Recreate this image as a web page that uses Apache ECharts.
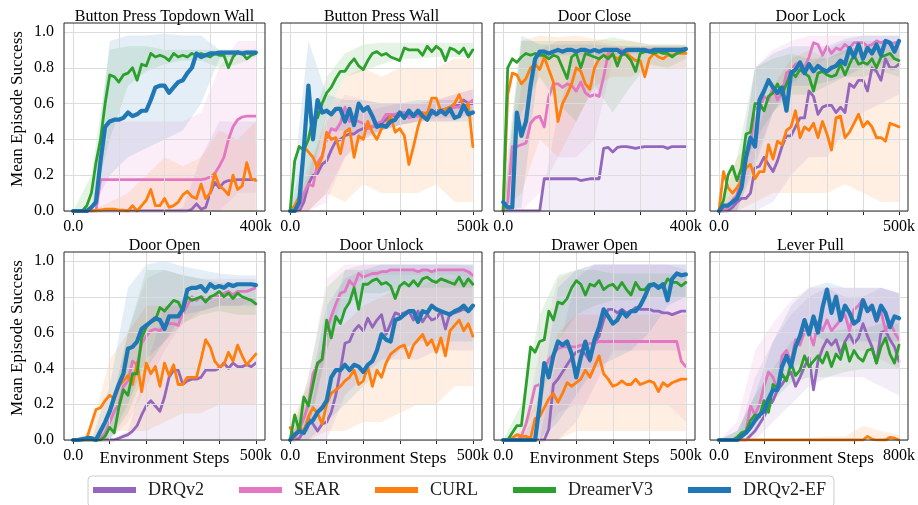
<!DOCTYPE html>
<html><head><meta charset="utf-8">
<script src="https://cdn.jsdelivr.net/npm/echarts/dist/echarts.min.js"></script>
<style>html,body{margin:0;padding:0;background:#fff}#c{width:918px;height:505px}</style>
</head><body><div id="c"></div>
<script>
const METHODS = ['DRQv2','SEAR','CURL','DreamerV3','DRQv2-EF'];
const TITLES = ['Button Press Topdown Wall','Button Press Wall','Door Close','Door Lock','Door Open','Door Unlock','Drawer Open','Lever Pull'];
const MAX_K = [400,500,400,500,500,500,500,800];
const Y_TICKS = [0,0.2,0.4,0.6,0.8,1.0];
const GX400 = [0,100,200,300,400];
const GX500 = [0,100,200,300,400,500];
const GX800 = [0,200,400,600,800];
// environment steps (thousands) of the logged points
const X400 = [0,10,20,30,40,50,60,70,80,90,100,110,120,130,140,150,160,170,180,190,200,210,220,230,240,250,260,270,280,290,300,310,320,330,340,350,360,370,380,390,400];
const X500 = [0,12.5,25,37.5,50,62.5,75,87.5,100,112.5,125,137.5,150,162.5,175,187.5,200,212.5,225,237.5,250,262.5,275,287.5,300,312.5,325,337.5,350,362.5,375,387.5,400,412.5,425,437.5,450,462.5,475,487.5,500];
const X800 = [0,20,40,60,80,100,120,140,160,180,200,220,240,260,280,300,320,340,360,380,400,420,440,460,480,500,520,540,560,580,600,620,640,660,680,700,720,740,760,780,800];
const BX400 = [0,40,80,120,160,200,240,280,320,360,400];
const BX500 = [0,50,100,150,200,250,300,350,400,450,500];
const BX800 = [0,80,160,240,320,400,480,560,640,720,800];

// ---- Panel 1: Button Press Topdown Wall
const P1_DRQV2 = [0,0,0,0,0,0,0,0,0,0, 0,0,0,0,0,0,0,0,0,0, 0,0,0,0,0,0,0.01,0.04,0.01,0.02, 0.1,0.16,0.13,0.16,0.17,0.17,0.175,0.175,0.175,0.175, 0.175];
const P1_SEAR = [0,0,0,0,0,0,0.175,0.175,0.175,0.175, 0.175,0.175,0.175,0.175,0.175,0.175,0.175,0.175,0.175,0.175, 0.175,0.175,0.175,0.175,0.175,0.175,0.175,0.175,0.175,0.18, 0.19,0.21,0.25,0.3,0.4,0.47,0.51,0.525,0.53,0.53, 0.53];
const P1_CURL = [0,0,0,0.005,0,0.005,0.005,0.01,0.01,0.01, 0.005,0.005,0,0.03,0,0.03,0.06,0.12,0.03,0.03, 0.07,0.02,0.03,0.05,0.09,0.11,0.08,0.07,0.15,0.07, 0.1,0.21,0.14,0.12,0.09,0.2,0.12,0.14,0.27,0.18, 0.17];
const P1_DREAMER = [0,0,0,0.03,0.1,0.27,0.4,0.6,0.76,0.75, 0.72,0.76,0.77,0.8,0.73,0.82,0.81,0.88,0.86,0.87, 0.86,0.84,0.88,0.86,0.87,0.86,0.88,0.87,0.88,0.87, 0.86,0.88,0.87,0.87,0.8,0.86,0.89,0.88,0.85,0.87, 0.88];
const P1_EF = [0,0,0,0,0.02,0.05,0.28,0.47,0.5,0.51, 0.51,0.52,0.55,0.53,0.54,0.56,0.56,0.62,0.69,0.7, 0.7,0.66,0.69,0.72,0.73,0.77,0.8,0.88,0.86,0.87, 0.88,0.88,0.885,0.885,0.885,0.885,0.885,0.88,0.885,0.885, 0.885];
const P1_DRQV2_LO = [0,0,0,0,0,0,0,0,0,0,0];
const P1_DRQV2_HI = [0,0,0,0,0,0,0.02,0.3,0.5,0.5,0.5];
const P1_SEAR_LO = [0,0,0,0,0,0,0,0,0,0.1,0.1];
const P1_SEAR_HI = [0,0,0.5,0.5,0.5,0.5,0.5,0.55,0.8,0.95,0.95];
const P1_CURL_LO = [0,0,0,0,0,0,0,0,0,0,0];
const P1_CURL_HI = [0,0,0.05,0.1,0.2,0.3,0.25,0.3,0.45,0.4,0.5];
const P1_DREAMER_LO = [0,0,0.4,0.7,0.78,0.82,0.84,0.84,0.8,0.82,0.86];
const P1_DREAMER_HI = [0,0.2,0.9,0.92,0.92,0.9,0.9,0.9,0.9,0.9,0.9];
const P1_EF_LO = [0,0,0.2,0.3,0.35,0.4,0.45,0.6,0.85,0.87,0.87];
const P1_EF_HI = [0,0,0.95,0.98,0.98,0.99,0.98,0.98,0.9,0.9,0.9];

// ---- Panel 2: Button Press Wall
const P2_DRQV2 = [0,0,0,0.05,0.15,0.2,0.21,0.26,0.28,0.34, 0.39,0.4,0.42,0.43,0.43,0.45,0.46,0.47,0.47,0.48, 0.49,0.51,0.54,0.53,0.53,0.54,0.54,0.54,0.54,0.54, 0.55,0.55,0.56,0.56,0.57,0.58,0.58,0.6,0.62,0.6, 0.6];
const P2_SEAR = [0,0,0.02,0.1,0.15,0.14,0.27,0.31,0.4,0.46, 0.45,0.49,0.58,0.5,0.51,0.5,0.49,0.46,0.47,0.49, 0.5,0.54,0.54,0.54,0.55,0.55,0.52,0.53,0.53,0.53, 0.54,0.54,0.56,0.56,0.57,0.57,0.58,0.58,0.59,0.6, 0.62];
const P2_CURL = [0,0.03,0.08,0.36,0.33,0.3,0.24,0.3,0.44,0.4, 0.41,0.32,0.44,0.46,0.3,0.42,0.4,0.5,0.44,0.4, 0.46,0.48,0.53,0.44,0.46,0.42,0.26,0.36,0.47,0.55, 0.54,0.63,0.63,0.56,0.57,0.58,0.6,0.65,0.58,0.6, 0.36];
const P2_DREAMER = [0,0.28,0.36,0.34,0.4,0.52,0.52,0.6,0.66,0.69, 0.74,0.78,0.78,0.82,0.85,0.81,0.79,0.84,0.88,0.89, 0.87,0.88,0.86,0.85,0.84,0.91,0.9,0.9,0.9,0.87, 0.92,0.89,0.92,0.9,0.84,0.91,0.9,0.88,0.91,0.86, 0.9];
const P2_EF = [0,0,0.05,0.35,0.7,0.4,0.62,0.55,0.56,0.54, 0.57,0.57,0.5,0.57,0.48,0.6,0.56,0.58,0.53,0.47, 0.48,0.47,0.5,0.51,0.55,0.52,0.56,0.53,0.56,0.53, 0.51,0.56,0.54,0.56,0.54,0.57,0.52,0.53,0.59,0.54, 0.55];
const P2_DRQV2_LO = [0,0,0.1,0.3,0.4,0.45,0.48,0.5,0.52,0.52,0.55];
const P2_DRQV2_HI = [0,0.1,0.4,0.55,0.55,0.58,0.6,0.6,0.62,0.65,0.68];
const P2_SEAR_LO = [0,0,0.05,0.3,0.4,0.45,0.48,0.5,0.5,0.5,0.55];
const P2_SEAR_HI = [0,0.25,0.5,0.65,0.62,0.6,0.6,0.6,0.62,0.65,0.68];
const P2_CURL_LO = [0,0,0.1,0.05,0.15,0.1,0.1,0.1,0.15,0.05,0.05];
const P2_CURL_HI = [0,0.2,0.55,0.75,0.8,0.75,0.8,0.8,0.8,0.85,0.85];
const P2_DREAMER_LO = [0,0.1,0.55,0.75,0.78,0.82,0.85,0.85,0.86,0.86,0.86];
const P2_DREAMER_HI = [0,0.45,0.75,0.88,0.93,0.94,0.94,0.94,0.94,0.94,0.94];
const P2_EF_LO = [0,0.1,0.45,0.45,0.42,0.45,0.48,0.5,0.5,0.5,0.5];
const P2_EF_HI = [0,0.95,0.65,0.62,0.62,0.6,0.6,0.62,0.62,0.62,0.62];

// ---- Panel 3: Door Close
const P3_DRQV2 = [0,0,0,0,0,0,0,0,0,0.18, 0.18,0.18,0.18,0.18,0.18,0.18,0.18,0.17,0.175,0.18, 0.18,0.18,0.35,0.355,0.33,0.355,0.36,0.36,0.355,0.35, 0.355,0.36,0.36,0.36,0.36,0.36,0.35,0.36,0.36,0.36, 0.36];
const P3_SEAR = [0,0.05,0.36,0.36,0.37,0.38,0.49,0.52,0.53,0.47, 0.64,0.71,0.71,0.69,0.71,0.7,0.67,0.72,0.66,0.64, 0.65,0.64,0.75,0.88,0.9,0.9,0.9,0.89,0.9,0.9, 0.9,0.9,0.9,0.89,0.9,0.9,0.9,0.9,0.9,0.9, 0.9];
const P3_CURL = [0,0.65,0.77,0.76,0.71,0.74,0.8,0.82,0.79,0.86, 0.79,0.72,0.5,0.6,0.65,0.71,0.8,0.78,0.71,0.68, 0.8,0.85,0.87,0.86,0.87,0.85,0.87,0.88,0.86,0.84, 0.84,0.75,0.85,0.88,0.86,0.85,0.87,0.87,0.88,0.88, 0.88];
const P3_DREAMER = [0,0.8,0.85,0.83,0.86,0.88,0.87,0.88,0.87,0.87, 0.85,0.87,0.86,0.8,0.74,0.86,0.88,0.8,0.88,0.87, 0.86,0.85,0.87,0.85,0.88,0.81,0.88,0.87,0.84,0.78, 0.88,0.89,0.89,0.88,0.89,0.88,0.88,0.86,0.88,0.89, 0.9];
const P3_EF = [0.05,0.02,0.02,0.55,0.42,0.5,0.7,0.85,0.89,0.89, 0.88,0.89,0.9,0.89,0.9,0.9,0.89,0.9,0.9,0.89, 0.9,0.89,0.9,0.9,0.9,0.9,0.88,0.9,0.9,0.9, 0.9,0.9,0.89,0.9,0.9,0.9,0.9,0.9,0.9,0.9, 0.905];
const P3_DRQV2_LO = [0,0,0,0,0,0,0,0,0,0,0];
const P3_DRQV2_HI = [0,0,0,0.55,0.9,0.9,0.9,0.9,0.9,0.9,0.9];
const P3_SEAR_LO = [0,0,0.1,0.3,0.3,0.4,0.85,0.88,0.88,0.88,0.88];
const P3_SEAR_HI = [0,0.7,0.9,0.95,0.95,0.95,0.93,0.92,0.92,0.92,0.92];
const P3_CURL_LO = [0,0.1,0.4,0.3,0.5,0.7,0.75,0.75,0.8,0.8,0.8];
const P3_CURL_HI = [0,0.95,0.98,0.97,0.98,0.96,0.95,0.95,0.93,0.93,0.93];
const P3_DREAMER_LO = [0,0.55,0.75,0.6,0.5,0.7,0.55,0.7,0.82,0.8,0.85];
const P3_DREAMER_HI = [0,0.95,0.95,0.95,0.95,0.95,0.97,0.95,0.93,0.93,0.93];
const P3_EF_LO = [0,0.02,0.85,0.87,0.87,0.87,0.87,0.88,0.88,0.88,0.88];
const P3_EF_HI = [0.1,0.98,0.93,0.93,0.93,0.93,0.92,0.92,0.92,0.92,0.92];

// ---- Panel 4: Door Lock
const P4_DRQV2 = [0,0,0,0.02,0.05,0.07,0.07,0.1,0.24,0.25, 0.3,0.26,0.22,0.28,0.36,0.42,0.42,0.47,0.52,0.52, 0.67,0.64,0.54,0.58,0.59,0.59,0.55,0.58,0.55,0.71, 0.69,0.73,0.73,0.67,0.8,0.78,0.73,0.85,0.8,0.8, 0.82];
const P4_SEAR = [0,0,0.02,0.06,0.09,0.2,0.3,0.37,0.58,0.56, 0.64,0.62,0.69,0.62,0.66,0.77,0.79,0.82,0.83,0.8, 0.86,0.94,0.93,0.87,0.92,0.88,0.91,0.9,0.93,0.91, 0.94,0.94,0.94,0.92,0.93,0.95,0.94,0.95,0.93,0.94, 0.94];
const P4_CURL = [0,0.22,0.13,0.1,0.13,0.17,0.24,0.26,0.18,0.22, 0.22,0.37,0.29,0.39,0.37,0.45,0.47,0.56,0.41,0.47, 0.45,0.49,0.41,0.5,0.43,0.34,0.52,0.53,0.41,0.44, 0.49,0.54,0.47,0.5,0.47,0.41,0.41,0.39,0.49,0.48, 0.47];
const P4_DREAMER = [0,0.06,0.2,0.25,0.17,0.24,0.43,0.44,0.6,0.6, 0.56,0.64,0.66,0.71,0.65,0.71,0.78,0.75,0.79,0.77, 0.75,0.67,0.77,0.78,0.76,0.75,0.76,0.82,0.76,0.82, 0.87,0.82,0.83,0.82,0.85,0.8,0.86,0.87,0.88,0.85, 0.84];
const P4_EF = [0,0.03,0.03,0.05,0.07,0.13,0.3,0.41,0.36,0.62, 0.67,0.73,0.69,0.66,0.69,0.56,0.77,0.79,0.83,0.77, 0.82,0.78,0.81,0.79,0.78,0.8,0.81,0.84,0.82,0.91, 0.86,0.93,0.85,0.91,0.88,0.93,0.87,0.95,0.94,0.89, 0.95];
const P4_DRQV2_LO = [0,0,0,0.05,0.2,0.3,0.3,0.45,0.55,0.6,0.65];
const P4_DRQV2_HI = [0,0.1,0.5,0.65,0.75,0.8,0.9,0.95,0.95,0.95,0.95];
const P4_SEAR_LO = [0,0,0.3,0.55,0.7,0.8,0.85,0.88,0.9,0.9,0.9];
const P4_SEAR_HI = [0,0.15,0.8,0.9,0.95,0.98,0.98,0.98,0.98,0.98,0.98];
const P4_CURL_LO = [0,0,0.05,0.1,0.1,0.1,0.1,0.15,0.1,0.05,0.05];
const P4_CURL_HI = [0,0.3,0.4,0.7,0.85,0.9,0.85,0.9,0.92,0.9,0.9];
const P4_DREAMER_LO = [0,0.1,0.4,0.55,0.65,0.65,0.7,0.75,0.75,0.78,0.75];
const P4_DREAMER_HI = [0,0.3,0.8,0.85,0.88,0.85,0.85,0.9,0.92,0.93,0.92];
const P4_EF_LO = [0,0,0.25,0.55,0.7,0.7,0.72,0.75,0.8,0.82,0.85];
const P4_EF_HI = [0,0.1,0.8,0.88,0.92,0.92,0.92,0.96,0.98,0.98,0.98];

// ---- Panel 5: Door Open
const P5_DRQV2 = [0,0,0,0,0,0,0,0,0,0, 0.01,0.02,0.03,0.05,0.08,0.14,0.19,0.22,0.19,0.16, 0.24,0.35,0.39,0.39,0.31,0.33,0.34,0.34,0.35,0.39, 0.39,0.39,0.4,0.43,0.4,0.43,0.41,0.41,0.42,0.41, 0.43];
const P5_SEAR = [0,0,0,0,0,0,0.01,0.04,0.1,0.16, 0.2,0.3,0.33,0.44,0.42,0.54,0.58,0.61,0.62,0.61, 0.64,0.65,0.65,0.64,0.71,0.75,0.8,0.78,0.8,0.79, 0.79,0.81,0.8,0.82,0.83,0.81,0.83,0.83,0.83,0.84, 0.85];
const P5_CURL = [0,0,0,0.01,0.09,0.17,0.18,0.22,0.25,0.23, 0.3,0.33,0.36,0.31,0.43,0.27,0.43,0.37,0.41,0.3, 0.43,0.36,0.42,0.31,0.31,0.35,0.35,0.35,0.45,0.56, 0.52,0.44,0.41,0.42,0.49,0.44,0.53,0.47,0.42,0.45, 0.48];
const P5_DREAMER = [0,0,0,0,0,0,0,0.02,0.07,0.04, 0.18,0.28,0.25,0.37,0.37,0.57,0.63,0.66,0.67,0.74, 0.72,0.75,0.78,0.77,0.72,0.8,0.78,0.79,0.8,0.77, 0.8,0.81,0.83,0.8,0.82,0.79,0.82,0.8,0.79,0.78, 0.76];
const P5_EF = [0,0,0.005,0.01,0.01,0,0.05,0.1,0.16,0.24, 0.31,0.37,0.51,0.52,0.55,0.62,0.64,0.66,0.68,0.67, 0.62,0.69,0.69,0.69,0.73,0.84,0.85,0.85,0.86,0.83, 0.87,0.85,0.86,0.85,0.87,0.86,0.87,0.87,0.87,0.87, 0.865];
const P5_DRQV2_LO = [0,0,0,0,0,0,0,0,0,0,0];
const P5_DRQV2_HI = [0,0,0,0.05,0.4,0.75,0.78,0.8,0.8,0.8,0.8];
const P5_SEAR_LO = [0,0,0,0.1,0.3,0.5,0.65,0.72,0.75,0.75,0.78];
const P5_SEAR_HI = [0,0,0.1,0.6,0.9,0.95,0.92,0.9,0.9,0.9,0.9];
const P5_CURL_LO = [0,0,0.05,0.05,0.05,0.1,0.15,0.15,0.2,0.2,0.2];
const P5_CURL_HI = [0,0.05,0.45,0.6,0.75,0.75,0.75,0.75,0.8,0.8,0.8];
const P5_DREAMER_LO = [0,0,0,0.15,0.4,0.55,0.65,0.7,0.72,0.7,0.7];
const P5_DREAMER_HI = [0,0,0.15,0.6,0.95,0.95,0.92,0.9,0.88,0.88,0.86];
const P5_EF_LO = [0,0,0,0.2,0.45,0.55,0.7,0.72,0.75,0.75,0.75];
const P5_EF_HI = [0,0,0.3,0.85,0.98,1.0,0.97,0.95,0.93,0.92,0.92];

// ---- Panel 6: Door Unlock
const P6_DRQV2 = [0,0,0.01,0.05,0.12,0.09,0.05,0.09,0.1,0.155, 0.25,0.39,0.54,0.55,0.61,0.64,0.61,0.68,0.63,0.67, 0.7,0.59,0.65,0.71,0.7,0.71,0.72,0.67,0.72,0.66, 0.7,0.67,0.68,0.72,0.62,0.71,0.71,0.72,0.73,0.72, 0.74];
const P6_SEAR = [0,0.01,0.06,0.12,0.2,0.37,0.42,0.45,0.61,0.69, 0.76,0.82,0.83,0.89,0.86,0.93,0.91,0.92,0.93,0.93, 0.94,0.94,0.95,0.95,0.95,0.95,0.95,0.95,0.94,0.95, 0.95,0.94,0.95,0.95,0.95,0.95,0.95,0.95,0.95,0.94, 0.92];
const P6_CURL = [0.07,0.015,0.08,0.04,0.13,0.18,0.15,0.09,0.2,0.26, 0.28,0.3,0.33,0.35,0.39,0.31,0.33,0.41,0.3,0.39, 0.35,0.43,0.48,0.5,0.52,0.53,0.46,0.53,0.56,0.59, 0.53,0.56,0.49,0.57,0.47,0.61,0.64,0.67,0.61,0.65, 0.58];
const P6_DREAMER = [0,0.14,0.05,0.24,0.19,0.31,0.43,0.45,0.67,0.57, 0.69,0.65,0.73,0.77,0.85,0.73,0.87,0.87,0.89,0.9, 0.87,0.88,0.86,0.79,0.86,0.88,0.86,0.89,0.86,0.9, 0.91,0.89,0.88,0.9,0.89,0.88,0.87,0.91,0.86,0.9, 0.87];
const P6_EF = [0,0.03,0.05,0.04,0.09,0.11,0.155,0.18,0.22,0.35, 0.39,0.39,0.42,0.39,0.42,0.41,0.38,0.42,0.44,0.5, 0.59,0.56,0.55,0.67,0.68,0.7,0.72,0.72,0.66,0.72, 0.71,0.75,0.73,0.72,0.71,0.7,0.72,0.73,0.75,0.72, 0.75];
const P6_DRQV2_LO = [0,0,0,0.25,0.35,0.45,0.45,0.45,0.5,0.5,0.5];
const P6_DRQV2_HI = [0,0.1,0.6,0.95,0.98,0.98,0.98,0.98,0.98,0.98,0.98];
const P6_SEAR_LO = [0,0.05,0.5,0.85,0.9,0.92,0.92,0.92,0.92,0.92,0.9];
const P6_SEAR_HI = [0,0.35,0.9,0.98,0.98,0.98,0.98,0.98,0.98,0.98,0.97];
const P6_CURL_LO = [0,0,0.05,0.05,0.1,0.1,0.15,0.2,0.2,0.3,0.3];
const P6_CURL_HI = [0.1,0.3,0.6,0.65,0.75,0.8,0.85,0.85,0.9,0.9,0.9];
const P6_DREAMER_LO = [0,0.05,0.5,0.75,0.82,0.82,0.85,0.85,0.85,0.85,0.85];
const P6_DREAMER_HI = [0,0.35,0.85,0.95,0.95,0.95,0.95,0.95,0.95,0.95,0.93];
const P6_EF_LO = [0,0,0.1,0.2,0.3,0.4,0.5,0.55,0.55,0.55,0.55];
const P6_EF_HI = [0,0.25,0.75,0.9,0.95,0.98,0.98,0.98,0.98,0.98,0.98];

// ---- Panel 7: Drawer Open
const P7_DRQV2 = [0,0,0,0,0,0,0,0,0,0, 0.06,0.31,0.34,0.38,0.42,0.46,0.49,0.5,0.48,0.44, 0.54,0.58,0.67,0.73,0.73,0.71,0.73,0.71,0.72,0.74, 0.73,0.73,0.73,0.72,0.72,0.71,0.71,0.7,0.71,0.72, 0.72];
const P7_SEAR = [0,0,0,0,0.02,0.09,0.19,0.3,0.31,0.39, 0.45,0.48,0.51,0.52,0.52,0.52,0.52,0.53,0.53,0.54, 0.54,0.55,0.55,0.55,0.55,0.55,0.55,0.55,0.55,0.55, 0.55,0.55,0.55,0.55,0.55,0.55,0.55,0.55,0.55,0.44, 0.41];
const P7_CURL = [0,0,0.01,0.03,0.02,0.02,0.01,0.12,0.13,0.18, 0.23,0.26,0.21,0.26,0.32,0.3,0.32,0.34,0.39,0.35, 0.41,0.47,0.37,0.34,0.3,0.31,0.33,0.31,0.31,0.34, 0.31,0.32,0.33,0.32,0.27,0.32,0.3,0.32,0.33,0.34, 0.34];
const P7_DREAMER = [0,0,0.04,0.08,0.08,0.3,0.52,0.49,0.55,0.56, 0.72,0.67,0.77,0.76,0.79,0.85,0.89,0.87,0.81,0.87, 0.86,0.89,0.84,0.86,0.87,0.84,0.88,0.84,0.81,0.88, 0.84,0.84,0.87,0.87,0.86,0.85,0.9,0.88,0.88,0.86, 0.88];
const P7_EF = [0,0,0,0,0,0,0,0,0.2,0.43, 0.35,0.47,0.55,0.53,0.55,0.48,0.35,0.46,0.55,0.45, 0.56,0.63,0.73,0.69,0.65,0.67,0.72,0.69,0.72,0.72, 0.75,0.8,0.86,0.87,0.85,0.87,0.78,0.9,0.93,0.92, 0.925];
const P7_DRQV2_LO = [0,0,0,0,0.1,0.3,0.5,0.5,0.5,0.5,0.5];
const P7_DRQV2_HI = [0,0,0,0.5,0.9,0.98,0.98,0.98,0.98,0.98,0.98];
const P7_SEAR_LO = [0,0,0,0.15,0.2,0.2,0.2,0.2,0.2,0.2,0.1];
const P7_SEAR_HI = [0,0,0.5,0.9,0.95,0.98,0.98,0.98,0.98,0.98,0.95];
const P7_CURL_LO = [0,0,0,0,0.05,0.05,0.05,0.05,0.05,0.05,0.05];
const P7_CURL_HI = [0,0.05,0.25,0.6,0.7,0.7,0.7,0.7,0.7,0.7,0.7];
const P7_DREAMER_LO = [0,0.02,0.2,0.55,0.7,0.75,0.78,0.78,0.8,0.8,0.8];
const P7_DREAMER_HI = [0,0.2,0.7,0.92,0.95,0.95,0.93,0.93,0.93,0.93,0.93];
const P7_EF_LO = [0,0,0,0.1,0.25,0.4,0.45,0.5,0.6,0.75,0.8];
const P7_EF_HI = [0,0,0.2,0.85,0.95,0.98,0.98,0.98,0.98,0.98,0.98];

// ---- Panel 8: Lever Pull
const P8_DRQV2 = [0,0,0,0,0,0,0,0.025,0.05,0.09, 0.13,0.18,0.22,0.28,0.31,0.35,0.38,0.3,0.35,0.41, 0.46,0.28,0.44,0.51,0.56,0.53,0.56,0.48,0.55,0.59, 0.54,0.57,0.65,0.58,0.52,0.43,0.6,0.61,0.56,0.52, 0.44];
const P8_SEAR = [0,0,0,0,0,0.02,0.05,0.19,0.14,0.2, 0.3,0.38,0.35,0.28,0.47,0.5,0.44,0.56,0.53,0.61, 0.6,0.53,0.66,0.61,0.67,0.61,0.64,0.67,0.7,0.61, 0.73,0.75,0.79,0.72,0.73,0.66,0.72,0.61,0.66,0.6, 0.56];
const P8_CURL = [0,0,0,0,0,0,0,0,0,0, 0,0,0,0,0,0,0,0,0,0, 0,0,0,0,0,0,0,0,0,0, 0,0,0,0.02,0.005,0,0,0,0.015,0.01, 0];
const P8_DREAMER = [0,0,0,0,0.015,0.04,0.05,0.11,0.14,0.13, 0.22,0.155,0.31,0.29,0.37,0.33,0.43,0.36,0.39,0.47, 0.41,0.44,0.47,0.43,0.49,0.41,0.48,0.45,0.54,0.44, 0.5,0.46,0.44,0.5,0.51,0.43,0.52,0.57,0.48,0.43, 0.53];
const P8_EF = [0,0,0,0,0,0.02,0.04,0.07,0.11,0.14, 0.16,0.23,0.28,0.28,0.41,0.47,0.41,0.52,0.58,0.67, 0.59,0.69,0.6,0.74,0.84,0.71,0.8,0.67,0.75,0.71, 0.65,0.67,0.78,0.72,0.75,0.67,0.75,0.71,0.63,0.69, 0.68];
const P8_DRQV2_LO = [0,0,0,0.1,0.2,0.3,0.35,0.35,0.35,0.3,0.25];
const P8_DRQV2_HI = [0,0,0.35,0.55,0.7,0.8,0.85,0.8,0.8,0.85,0.82];
const P8_SEAR_LO = [0,0,0.05,0.2,0.4,0.45,0.45,0.5,0.5,0.45,0.4];
const P8_SEAR_HI = [0,0.1,0.5,0.65,0.78,0.85,0.85,0.85,0.85,0.85,0.82];
const P8_CURL_LO = [0,0,0,0,0,0,0,0,0,0,0];
const P8_CURL_HI = [0,0,0,0,0,0.01,0.02,0.02,0.08,0.05,0.03];
const P8_DREAMER_LO = [0,0,0.08,0.22,0.32,0.35,0.35,0.38,0.4,0.4,0.4];
const P8_DREAMER_HI = [0,0.05,0.25,0.4,0.55,0.6,0.6,0.62,0.62,0.65,0.65];
const P8_EF_LO = [0,0,0.1,0.25,0.5,0.6,0.55,0.55,0.55,0.55,0.55];
const P8_EF_HI = [0,0.05,0.25,0.55,0.75,0.85,0.88,0.85,0.85,0.85,0.82];

const PANELS = [
  {x: X400, bx: BX400, gx: GX400, mean: [P1_DRQV2,P1_SEAR,P1_CURL,P1_DREAMER,P1_EF], lo: [P1_DRQV2_LO,P1_SEAR_LO,P1_CURL_LO,P1_DREAMER_LO,P1_EF_LO], hi: [P1_DRQV2_HI,P1_SEAR_HI,P1_CURL_HI,P1_DREAMER_HI,P1_EF_HI]},
  {x: X500, bx: BX500, gx: GX500, mean: [P2_DRQV2,P2_SEAR,P2_CURL,P2_DREAMER,P2_EF], lo: [P2_DRQV2_LO,P2_SEAR_LO,P2_CURL_LO,P2_DREAMER_LO,P2_EF_LO], hi: [P2_DRQV2_HI,P2_SEAR_HI,P2_CURL_HI,P2_DREAMER_HI,P2_EF_HI]},
  {x: X400, bx: BX400, gx: GX400, mean: [P3_DRQV2,P3_SEAR,P3_CURL,P3_DREAMER,P3_EF], lo: [P3_DRQV2_LO,P3_SEAR_LO,P3_CURL_LO,P3_DREAMER_LO,P3_EF_LO], hi: [P3_DRQV2_HI,P3_SEAR_HI,P3_CURL_HI,P3_DREAMER_HI,P3_EF_HI]},
  {x: X500, bx: BX500, gx: GX500, mean: [P4_DRQV2,P4_SEAR,P4_CURL,P4_DREAMER,P4_EF], lo: [P4_DRQV2_LO,P4_SEAR_LO,P4_CURL_LO,P4_DREAMER_LO,P4_EF_LO], hi: [P4_DRQV2_HI,P4_SEAR_HI,P4_CURL_HI,P4_DREAMER_HI,P4_EF_HI]},
  {x: X500, bx: BX500, gx: GX500, mean: [P5_DRQV2,P5_SEAR,P5_CURL,P5_DREAMER,P5_EF], lo: [P5_DRQV2_LO,P5_SEAR_LO,P5_CURL_LO,P5_DREAMER_LO,P5_EF_LO], hi: [P5_DRQV2_HI,P5_SEAR_HI,P5_CURL_HI,P5_DREAMER_HI,P5_EF_HI]},
  {x: X500, bx: BX500, gx: GX500, mean: [P6_DRQV2,P6_SEAR,P6_CURL,P6_DREAMER,P6_EF], lo: [P6_DRQV2_LO,P6_SEAR_LO,P6_CURL_LO,P6_DREAMER_LO,P6_EF_LO], hi: [P6_DRQV2_HI,P6_SEAR_HI,P6_CURL_HI,P6_DREAMER_HI,P6_EF_HI]},
  {x: X500, bx: BX500, gx: GX500, mean: [P7_DRQV2,P7_SEAR,P7_CURL,P7_DREAMER,P7_EF], lo: [P7_DRQV2_LO,P7_SEAR_LO,P7_CURL_LO,P7_DREAMER_LO,P7_EF_LO], hi: [P7_DRQV2_HI,P7_SEAR_HI,P7_CURL_HI,P7_DREAMER_HI,P7_EF_HI]},
  {x: X800, bx: BX800, gx: GX800, mean: [P8_DRQV2,P8_SEAR,P8_CURL,P8_DREAMER,P8_EF], lo: [P8_DRQV2_LO,P8_SEAR_LO,P8_CURL_LO,P8_DREAMER_LO,P8_EF_LO], hi: [P8_DRQV2_HI,P8_SEAR_HI,P8_CURL_HI,P8_DREAMER_HI,P8_EF_HI]}
];

// ---- layout & style
const FONT = "'Liberation Serif','Times New Roman',serif";
const COLORS = ['#9467bd','#e377c2','#ff7f0e','#2ca02c','#1f77b4'];
const LEFTS = [64, 281, 494, 710];
const TOPS = [23, 252];
const TITLE_TOPS = [9, 238];
const W = 201, H = 188;

function bandRenderer(bx, lo, hi, color) {
  return function (params, api) {
    if (params.dataIndex !== 0) return null;
    const pts = [];
    for (let j = 0; j < bx.length; j++) pts.push(api.coord([bx[j], lo[j]]));
    for (let j = bx.length - 1; j >= 0; j--) pts.push(api.coord([bx[j], hi[j]]));
    return {type: 'polygon', shape: {points: pts}, style: {fill: color, opacity: 0.12}};
  };
}

const grids = [], xAxes = [], yAxes = [], titles = [], series = [];
PANELS.forEach((p, i) => {
  const col = i % 4, row = Math.floor(i / 4);
  const maxK = MAX_K[i], pad = maxK * 0.05;
  grids.push({left: LEFTS[col], top: TOPS[row], width: W, height: H, show: true,
    borderColor: '#262626', borderWidth: 1, backgroundColor: 'transparent', z: 20});
  titles.push({text: TITLES[i], left: LEFTS[col] + W / 2, top: TITLE_TOPS[row], textAlign: 'center', padding: 0,
    textStyle: {fontFamily: FONT, fontSize: 16, fontWeight: 'normal', color: '#000'}});
  xAxes.push({type: 'value', gridIndex: i, min: -pad, max: maxK + pad, interval: pad,
    axisLine: {show: false},
    axisTick: {show: true, customValues: p.gx, length: 4, lineStyle: {color: '#262626'}},
    splitLine: {show: false},
    axisLabel: {customValues: [0, maxK], margin: 8, fontFamily: FONT, fontSize: 16, color: '#000',
      formatter: v => (v === 0 ? '0.0' : (v === maxK ? maxK + 'k' : ''))},
    name: row === 1 ? 'Environment Steps' : '', nameLocation: 'middle', nameGap: 10, nameMoveOverlap: false,
    nameTextStyle: {fontFamily: FONT, fontSize: 17, color: '#000'}});
  yAxes.push({type: 'value', gridIndex: i, min: 0, max: 1.05, interval: 0.2,
    axisLine: {show: false},
    axisTick: {show: true, customValues: Y_TICKS, length: 4, lineStyle: {color: '#262626'}},
    splitLine: {show: false},
    axisLabel: {show: col === 0, customValues: Y_TICKS, margin: 10, fontFamily: FONT, fontSize: 16, color: '#000',
      formatter: v => (Math.abs(v * 5 - Math.round(v * 5)) < 1e-6 ? v.toFixed(1) : '')},
    name: col === 0 ? 'Mean Episode Success' : '', nameLocation: 'middle', nameGap: 38, nameMoveOverlap: false,
    nameTextStyle: {fontFamily: FONT, fontSize: 17, color: '#000', padding: [0, 0, 0, 16]}});

  for (let m = 0; m < METHODS.length; m++) {
    const band = {type: 'custom', xAxisIndex: i, yAxisIndex: i, silent: true, clip: true, z: 1,
      data: p.bx.map((x, j) => [x, p.lo[m][j], p.hi[m][j]]),
      encode: {x: 0, y: [1, 2]},
      renderItem: bandRenderer(p.bx, p.lo[m], p.hi[m], COLORS[m])};
    if (m === 0) {
      band.z = 2;
      band.markLine = {silent: true, symbol: ['none', 'none'], label: {show: false}, animation: false,
        lineStyle: {color: '#dcdcdc', width: 1, type: 'solid'},
        emphasis: {disabled: true},
        data: p.gx.map(v => ({xAxis: v})).concat(Y_TICKS.map(v => ({yAxis: v})))};
    }
    series.push(band);
    series.push({type: 'line', name: METHODS[m], xAxisIndex: i, yAxisIndex: i, symbol: 'none',
      itemStyle: {color: COLORS[m]},
      lineStyle: {color: COLORS[m], width: m === 4 ? 4.2 : 2.8, join: 'round', cap: 'round'},
      z: 3 + m,
      data: p.x.map((x, j) => [x, p.mean[m][j]])});
  }
});

const chart = echarts.init(document.getElementById('c'), null, {renderer: 'canvas'});
chart.setOption({
  animation: false,
  backgroundColor: '#fff',
  title: titles,
  grid: grids,
  xAxis: xAxes,
  yAxis: yAxes,
  legend: {data: METHODS, left: 88, top: 476, orient: 'horizontal', icon: 'rect',
    itemWidth: 43, itemHeight: 6, itemGap: 35,
    textStyle: {fontFamily: FONT, fontSize: 18, color: '#222', padding: [0, 0, 0, 7]},
    borderColor: '#cccccc', borderWidth: 1, borderRadius: 4, padding: [5, 8, 8, 5]},
  series: series
});
</script>
</body></html>
